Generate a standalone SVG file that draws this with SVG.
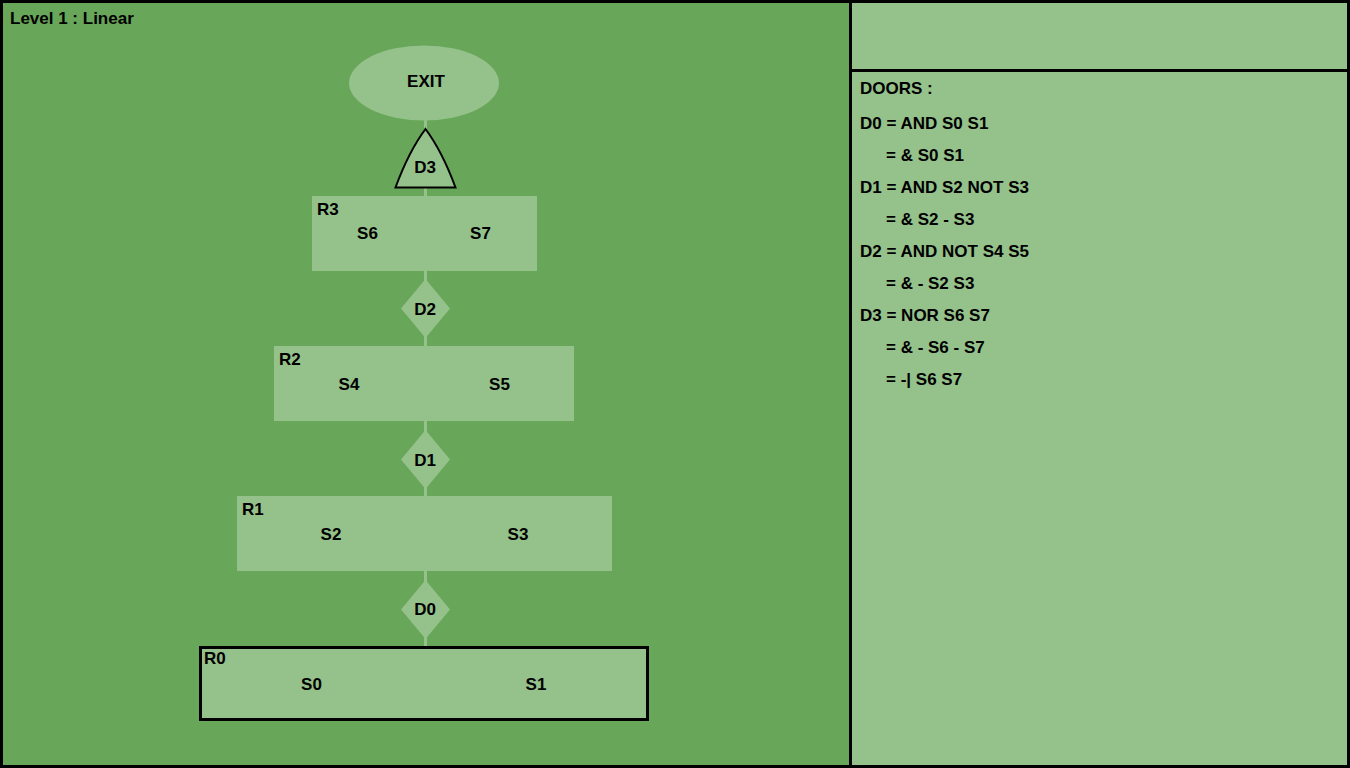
<svg xmlns="http://www.w3.org/2000/svg" width="1350" height="768" viewBox="0 0 1350 768">
<style>
  text { font-family: "Liberation Sans", Arial, sans-serif; font-weight: bold; font-size: 17px; fill: #000; }
  .c { text-anchor: middle; }
  .light { fill: #95c18b; }
  .dark { fill: #68a659; }
  .conn { stroke: #95c18b; stroke-width: 3; fill: none; }
</style>
<rect x="0" y="0" width="1350" height="768" fill="#000"/>
<rect id="level-panel" class="dark" x="3" y="3" width="846" height="762"/>
<rect id="top-right-panel" class="light" x="852" y="3" width="495" height="66"/>
<rect id="doors-panel" class="light" x="852" y="72" width="495" height="693"/>
<text x="10" y="24">Level 1 : Linear</text>
<g id="connectors">
  <line class="conn" x1="425.5" y1="83" x2="425.5" y2="160"/>
  <line class="conn" x1="425.5" y1="180" x2="425.5" y2="233"/>
  <line class="conn" x1="425.5" y1="233" x2="425.5" y2="309"/>
  <line class="conn" x1="425.5" y1="309" x2="425.5" y2="384"/>
  <line class="conn" x1="425.5" y1="384" x2="425.5" y2="459"/>
  <line class="conn" x1="425.5" y1="459" x2="425.5" y2="534"/>
  <line class="conn" x1="425.5" y1="534" x2="425.5" y2="609"/>
  <line class="conn" x1="425.5" y1="609" x2="425.5" y2="684"/>
</g>
<g id="EXIT">
  <ellipse class="light" cx="424" cy="83" rx="75" ry="37.5"/>
  <text class="c" x="426" y="87">EXIT</text>
</g>
<g id="D3">
  <path d="M425.5,129 Q409,151 395.5,187.5 L455.5,187.5 Q442,151 425.5,129 Z" fill="#95c18b" stroke="#000" stroke-width="2" stroke-linejoin="miter"/>
  <text class="c" x="425" y="173">D3</text>
</g>
<g id="R3">
  <rect class="light" x="312" y="196" width="225" height="75"/>
  <text x="317" y="215">R3</text>
  <text class="c" x="367.5" y="239">S6</text>
  <text class="c" x="480.5" y="239">S7</text>
</g>
<g id="D2">
  <polygon class="light" points="425.5,279 450,308.5 425.5,338 401,308.5"/>
  <text class="c" x="425" y="315">D2</text>
</g>
<g id="R2">
  <rect class="light" x="274" y="346" width="300" height="75"/>
  <text x="279" y="365">R2</text>
  <text class="c" x="349" y="390">S4</text>
  <text class="c" x="499.5" y="390">S5</text>
</g>
<g id="D1">
  <polygon class="light" points="425.5,430 450,459.5 425.5,489 401,459.5"/>
  <text class="c" x="425" y="466">D1</text>
</g>
<g id="R1">
  <rect class="light" x="237" y="496" width="375" height="75"/>
  <text x="242" y="515">R1</text>
  <text class="c" x="331" y="540">S2</text>
  <text class="c" x="518" y="540">S3</text>
</g>
<g id="D0">
  <polygon class="light" points="425.5,580 450,609.5 425.5,639 401,609.5"/>
  <text class="c" x="425" y="615">D0</text>
</g>
<g id="R0">
  <rect x="200.5" y="647.5" width="447" height="72" fill="#95c18b" stroke="#000" stroke-width="3"/>
  <text x="204" y="664">R0</text>
  <text class="c" x="311.5" y="690">S0</text>
  <text class="c" x="536" y="690">S1</text>
</g>
<g id="doors-text">
  <text x="860" y="94">DOORS :</text>
  <text x="860" y="129">D0 = AND S0 S1</text>
  <text x="886" y="161">= &amp; S0 S1</text>
  <text x="860" y="193">D1 = AND S2 NOT S3</text>
  <text x="886" y="225">= &amp; S2 - S3</text>
  <text x="860" y="257">D2 = AND NOT S4 S5</text>
  <text x="886" y="289">= &amp; - S2 S3</text>
  <text x="860" y="321">D3 = NOR S6 S7</text>
  <text x="886" y="353">= &amp; - S6 - S7</text>
  <text x="886" y="385">= -| S6 S7</text>
</g>
</svg>
